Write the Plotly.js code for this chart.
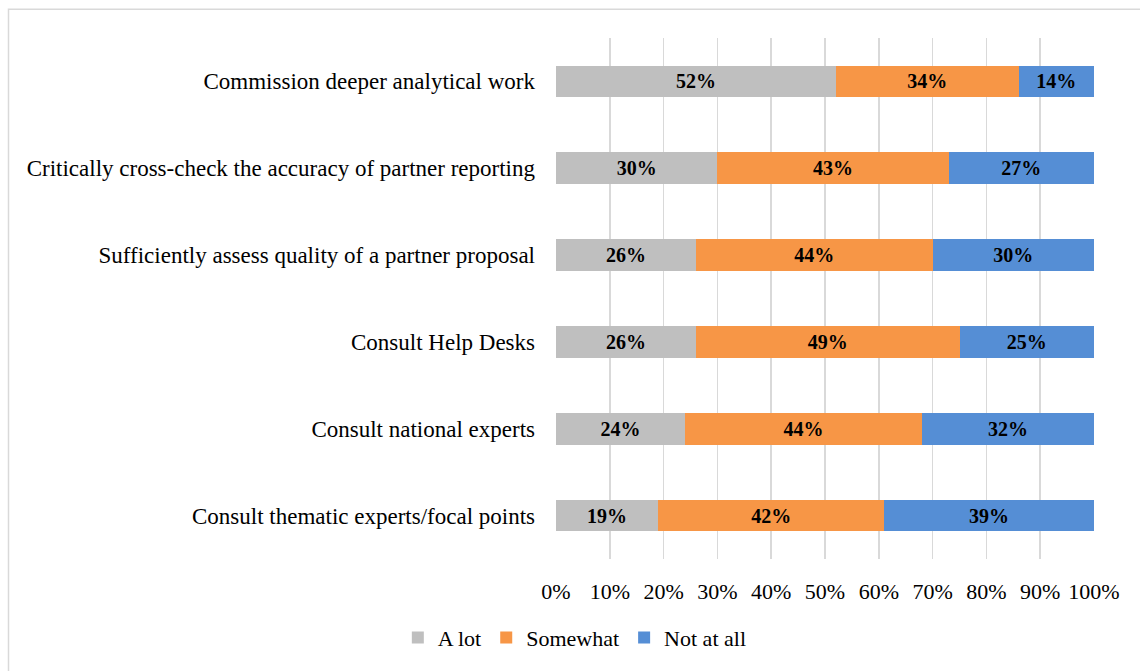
<!DOCTYPE html>
<html>
<head>
<meta charset="utf-8">
<script src="https://cdn.plot.ly/plotly-3.0.1.min.js"></script>
<style>html,body{margin:0;padding:0;background:#fff;}#chart{width:1140px;height:671px;}</style>
</head>
<body>
<div id="chart"></div>
<script>
const categories = [
  "Commission deeper analytical work",
  "Critically cross-check the accuracy of partner reporting",
  "Sufficiently assess quality of a partner proposal",
  "Consult Help Desks",
  "Consult national experts",
  "Consult thematic experts/focal points"
];
const aLot = [52, 30, 26, 26, 24, 19];
const somewhat = [34, 43, 44, 49, 44, 42];
const notAtAll = [14, 27, 30, 25, 32, 39];
const seriesNames = ["A lot", "Somewhat", "Not at all"];
const tickValues = [0,10,20,30,40,50,60,70,80,90,100];

const FONT = "Liberation Serif, Times New Roman, serif";
const colors = ["#BFBFBF", "#F79646", "#558ED5"];
const series = [aLot, somewhat, notAtAll];

const traces = series.map((vals, i) => ({
  type: "bar",
  orientation: "h",
  name: seriesNames[i],
  y: categories,
  x: vals,
  text: vals.map(v => v + "%"),
  texttemplate: "%{text}",
  marker: {color: colors[i], line: {width: 0}},
  textposition: "inside",
  insidetextanchor: "middle",
  constraintext: "none",
  textfont: {family: FONT, size: 20, color: "#000", weight: "bold"},
  hoverinfo: "skip"
}));

const layout = {
  width: 1140, height: 671,
  margin: {l: 556, r: 46, t: 38, b: 109},
  barmode: "stack",
  bargap: 0.634,
  paper_bgcolor: "#fff",
  plot_bgcolor: "#fff",
  font: {family: FONT, size: 22, color: "#000"},
  xaxis: {
    range: [0, 100],
    tickvals: tickValues,
    ticktext: tickValues.map(v => v + "%"),
    showgrid: true, gridcolor: "#D9D9D9", gridwidth: 1.5,
    zeroline: false, showline: false, ticks: "",
    ticklabelstandoff: 17,
    tickfont: {family: FONT, size: 22, color: "#000"},
    fixedrange: true
  },
  yaxis: {
    autorange: "reversed",
    showgrid: false, zeroline: false, showline: false, ticks: "",
    ticklabelstandoff: 20,
    tickfont: {family: FONT, size: 23, color: "#000"},
    fixedrange: true
  },
  legend: {
    orientation: "h",
    x: -0.294, xanchor: "left",
    y: -0.151, yanchor: "middle",
    font: {family: FONT, size: 22, color: "#000"},
    traceorder: "normal",
    itemwidth: 30
  },
  shapes: [{
    type: "rect", xref: "paper", yref: "paper",
    x0: (8.5 - 556) / 538, x1: (1200 - 556) / 538,
    y0: (562 - 700) / 524, y1: (562 - 9) / 524,
    line: {color: "#D9D9D9", width: 1.5}, fillcolor: "rgba(0,0,0,0)", layer: "below"
  }],
  showlegend: true
};

Plotly.newPlot("chart", traces, layout, {displayModeBar: false, staticPlot: true});
</script>
</body>
</html>
